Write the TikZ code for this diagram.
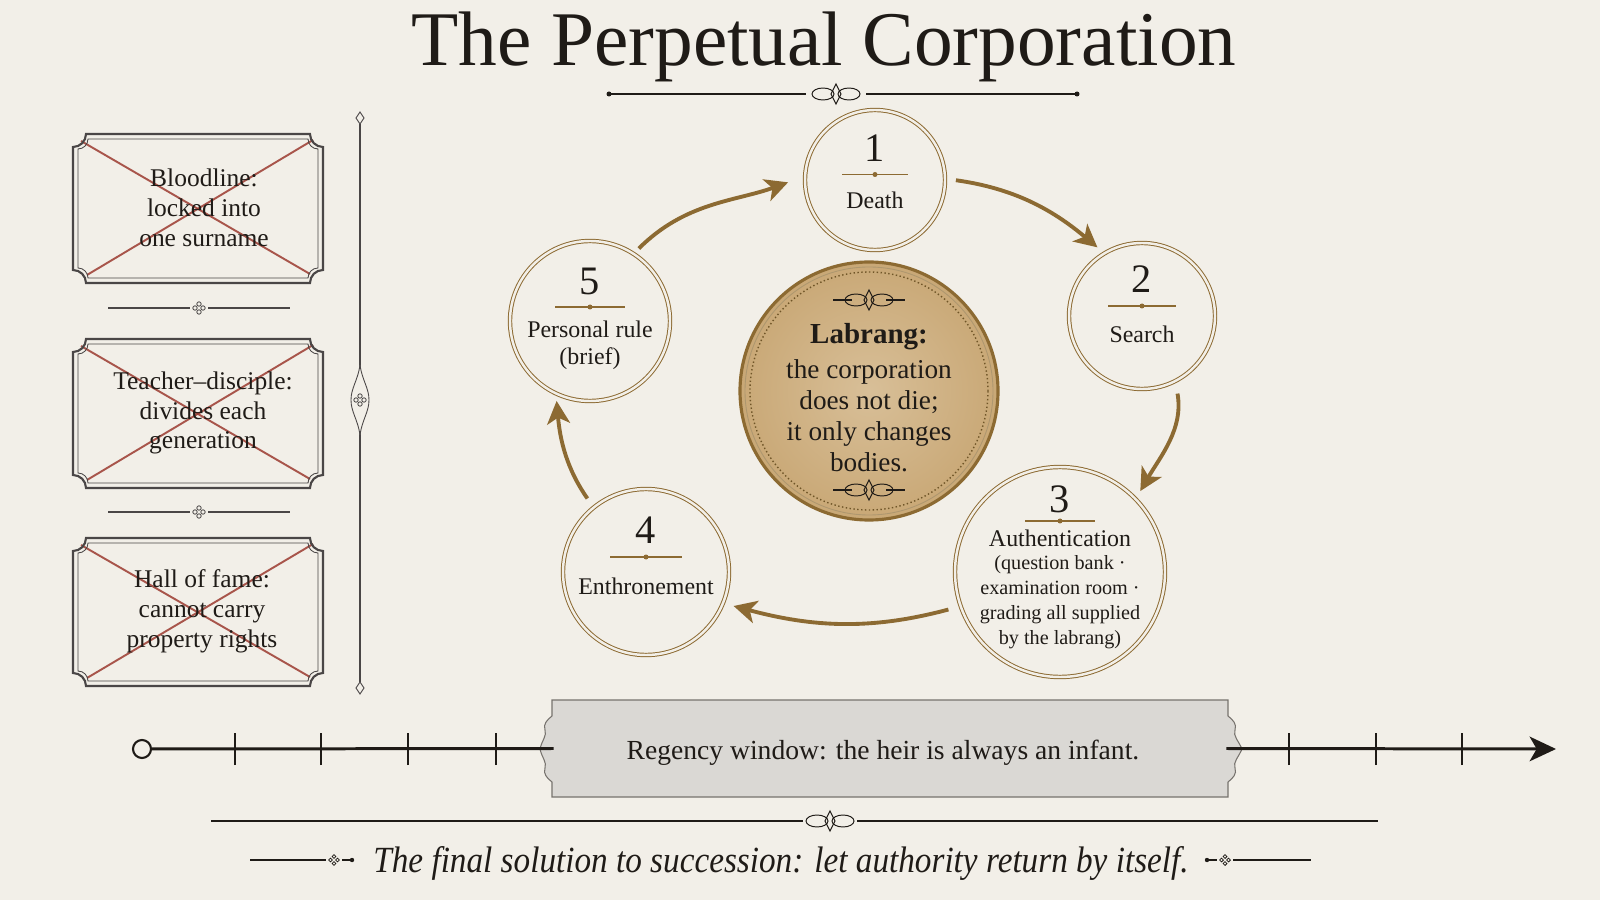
\documentclass[tikz,border=0pt]{standalone}
\usepackage{fontspec}
\usepackage{graphicx}
\setmainfont{Liberation Serif}
\usetikzlibrary{arrows.meta,calc}
\definecolor{bg}{HTML}{F2EFE8}
\definecolor{brn}{HTML}{8C6A32}
\definecolor{ink}{HTML}{1F1B17}
\definecolor{gr}{HTML}{4A4646}
\definecolor{xred}{HTML}{9C3B30}
\definecolor{tanl}{HTML}{D8BF98}
\definecolor{tand}{HTML}{C9A876}
\definecolor{graybox}{HTML}{DAD8D4}
\definecolor{grayedge}{HTML}{77736E}

\newcommand{\quatref}[4]{% x y size colour
  \foreach \a in {0,90,180,270}{\draw[#4, line width=0.45pt] (#1,#2) ++(\a:#3) circle (0.55*#3);}}
\newcommand{\flour}[3]{% x y colour
  \begin{scope}[shift={(#1,#2)}]
  \draw[#3, line width=0.55pt] (-13,0) ellipse [x radius=11, y radius=6];
  \draw[#3, line width=0.55pt] (13,0) ellipse [x radius=11, y radius=6];
  \draw[#3, line width=0.55pt] (0,-10) -- (5,0) -- (0,10) -- (-5,0) -- cycle;
  \end{scope}}
\newcommand{\xbox}[4]{% x1 y1 x2 y2
  \draw[xred, line width=1.1pt, opacity=0.85] (#1+8,#4-7) -- (#3-13,#2+9);
  \draw[xred, line width=1.1pt, opacity=0.85] (#1+14,#2+8) -- (#3-10,#4-6);
  \draw[gr, line width=1.2pt] (#1+13,#2) -- (#3-13,#2) arc[start angle=180,end angle=90,radius=13]
     -- (#3,#4-13) arc[start angle=270,end angle=180,radius=13]
     -- (#1+13,#4) arc[start angle=0,end angle=-90,radius=13]
     -- (#1,#2+13) arc[start angle=90,end angle=0,radius=13] -- cycle;
  \draw[gr, line width=0.5pt] (#1+15,#2+5) -- (#3-15,#2+5) arc[start angle=180,end angle=90,radius=10]
     -- (#3-5,#4-15) arc[start angle=270,end angle=180,radius=10]
     -- (#1+15,#4-5) arc[start angle=0,end angle=-90,radius=10]
     -- (#1+5,#2+15) arc[start angle=90,end angle=0,radius=10] -- cycle;}

\tikzset{
  stage/.style={circle, draw=brn, line width=0.55pt, double=bg, double distance=1.4pt, fill=bg, inner sep=0pt},
  num/.style={font=\fontsize{23}{23}\selectfont, text=ink},
  lbl/.style={font=\fontsize{13.6}{15.4}\selectfont, align=center, text=ink},
  small/.style={font=\fontsize{11.5}{14.2}\selectfont, align=center, text=ink},
  boxtxt/.style={font=\fontsize{14.5}{17}\selectfont, align=center, text=ink},
  ctxt/.style={font=\fontsize{15.5}{17.6}\selectfont, align=center, text=ink},
  arr/.style={draw=brn, line width=2.2pt, -{Stealth[length=13pt,width=13pt,inset=3.5pt]}},
  divd/.style={brn, line width=0.6pt},
  tl/.style={draw=ink, line width=1.7pt}
}

\begin{document}
\begin{tikzpicture}[x=0.2mm,y=0.2mm]
\useasboundingbox (0,0) rectangle (1600,900);
\fill[bg] (0,0) rectangle (1600,900);

% title
\node[anchor=base, font=\fontsize{44}{44}\selectfont, text=ink] (title) at (824,834) {The Perpetual Corporation};
\draw[ink, line width=0.8pt] (609,806) -- (806,806);
\draw[ink, line width=0.8pt] (866,806) -- (1077,806);
\fill[ink] (609,806) circle (2.5);
\fill[ink] (1077,806) circle (2.5);
\flour{836}{806}{ink}

% left boxes
\xbox{73}{617}{323}{766}
\xbox{73}{412}{323}{561}
\xbox{73}{214}{323}{362}
\node[boxtxt] (b1) at (204,692) {Bloodline:\\locked into\\one surname};
\node[boxtxt] (b2) at (203,487) {Teacher–disciple:\\divides each\\generation};
\node[boxtxt] (b3) at (202,289) {Hall of fame:\\cannot carry\\property rights};
% separators
\draw[gr, line width=0.6pt] (108,592) -- (190,592);
\draw[gr, line width=0.6pt] (208,592) -- (290,592);
\quatref{199}{592}{4}{gr}
\draw[gr, line width=0.6pt] (108,388) -- (190,388);
\draw[gr, line width=0.6pt] (208,388) -- (290,388);
\quatref{199}{388}{4}{gr}
% vertical rule
\draw[gr, line width=0.7pt] (360,218) -- (360,776);
\draw[gr, line width=0.5pt, fill=bg] (360,776) -- (364,782) -- (360,788) -- (356,782) -- cycle;
\draw[gr, line width=0.5pt, fill=bg] (360,218) -- (364,212) -- (360,206) -- (356,212) -- cycle;
\draw[gr, line width=0.5pt, fill=bg] (360,535) .. controls (358,520) and (351,512) .. (351,500) .. controls (351,488) and (358,480) .. (360,465) .. controls (362,480) and (369,488) .. (369,500) .. controls (369,512) and (362,520) .. (360,535) -- cycle;
\quatref{360}{500}{4}{gr}

% centre
\node[circle, minimum size=51.6mm, inner sep=0pt, draw=brn, line width=1.8pt, inner color=tanl, outer color=tand] (c) at (869,509) {};
\draw[brn!70, line width=0.5pt] (c) circle (124);
\draw[brn!80!black, line width=0.8pt, dash pattern=on 0.8pt off 1.4pt] (c) circle (119);
\draw[ink, line width=0.6pt] (833,600) -- (852,600);
\draw[ink, line width=0.6pt] (886,600) -- (905,600);
\flour{869}{600}{ink}
\draw[ink, line width=0.6pt] (833,410) -- (852,410);
\draw[ink, line width=0.6pt] (886,410) -- (905,410);
\flour{869}{410}{ink}
\node[font=\fontsize{16.5}{18}\selectfont\bfseries, text=ink] (clab) at (869,563) {Labrang:};
\node[ctxt] (ctext) at (869,484) {the corporation\\does not die;\\it only changes\\bodies.};

% stages
\node[stage, minimum size=28mm] (n1) at (875,720) {};
\node[stage, minimum size=29.2mm] (n2) at (1142,584) {};
\node[stage, minimum size=42mm] (n3) at (1060,328) {};
\node[stage, minimum size=33.2mm] (n4) at (646,328) {};
\node[stage, minimum size=32mm] (n5) at (590,579) {};

\node[num] (n1n) at (875,752) {1};
\draw[divd] (842,725.5) -- (908,725.5); \fill[brn] (875,725.5) circle (2.5);
\node[lbl] (n1t) at (875,700) {Death};

\node[num] (n2n) at (1142,621) {2};
\draw[divd] (1108,594) -- (1176,594); \fill[brn] (1142,594) circle (2.5);
\node[lbl] (n2t) at (1142,566) {Search};

\node[num] (n3n) at (1060,401) {3};
\draw[divd] (1025,379) -- (1095,379); \fill[brn] (1060,379) circle (2.5);
\node[lbl] (n3t) at (1060,362) {Authentication};
\node[small] (n3s) at (1060,298) {(question bank ·\\examination room ·\\grading all supplied\\by the labrang)};

\node[num] (n4n) at (646,370) {4};
\draw[divd] (610,343) -- (682,343); \fill[brn] (646,343) circle (2.5);
\node[lbl] (n4t) at (646,314) {Enthronement};

\node[num] (n5n) at (590,619) {5};
\draw[divd] (555,593) -- (625,593); \fill[brn] (590,593) circle (2.5);
\node[lbl] (n5t) at (590,555) {Personal rule\\(brief)};

% cycle arrows
\draw[arr, shorten <=4pt, shorten >=10pt] (n5.57) to[out=45, in=200] (n1.177);
\draw[arr, shorten <=6pt, shorten >=5pt] (n1.1) to[out=-8, in=140] (n2.121);
\draw[arr, shorten <=7pt, shorten >=5pt] (n2.-63) to[out=-80, in=60] (n3.44);
\draw[arr, shorten <=7pt, shorten >=6pt] (n3.199) to[out=195, in=-15] (n4.-22);
\draw[arr, shorten <=6pt, shorten >=4pt] (n4.129) to[out=125, in=-85] (n5.245);

% timeline
\node[minimum width=135.2mm, minimum height=19.4mm, inner sep=0pt] (rw) at (890,151.5) {};
\fill[graybox, draw=grayedge, line width=0.6pt]
  (552,200) -- (552,184) .. controls (547,180) and (543,176) .. (545,170)
  .. controls (547,164) and (542,160) .. (540,151) .. controls (542,142) and (547,138) .. (545,132)
  .. controls (543,126) and (547,122) .. (552,118) -- (552,103)
  -- (1228,103) -- (1228,118) .. controls (1233,122) and (1237,126) .. (1235,132)
  .. controls (1233,138) and (1238,142) .. (1242,151) .. controls (1238,160) and (1233,164) .. (1235,170)
  .. controls (1237,176) and (1233,180) .. (1228,184) -- (1228,200) -- cycle;
\node[font=\fontsize{15.7}{18}\selectfont, text=ink] (rwt) at (883,147) {Regency window: the heir is always an infant.};
\node[circle, draw=ink, line width=1.2pt, fill=bg, minimum size=3.6mm, inner sep=0pt] (t0) at (142,151) {};
\coordinate (tend) at (1556,151);
\draw[tl] (t0) -- ([xshift=0.4mm]rw.west);
\draw[tl, -{Stealth[length=15pt,width=14pt,inset=4pt]}] ([xshift=-0.4mm]rw.east) -- (tend);
\foreach \x in {235,321,408,496,1289,1376,1462} \draw[ink, line width=1.3pt] (\x,135) -- (\x,167);

% bottom rule & caption
\draw[ink, line width=0.8pt] (211,79) -- (803,79);
\draw[ink, line width=0.8pt] (857,79) -- (1378,79);
\flour{830}{79}{ink}
\node[font=\fontsize{21}{21}\selectfont\itshape, text=ink] (cap) at (781,37) {\scalebox{0.9}[1]{The final solution to succession: let authority return by itself.}};
\draw[ink, line width=0.7pt] (250,40) -- (326,40);
\quatref{334}{40}{3.5}{ink}
\fill[ink] (352,40) circle (2.2);
\draw[ink, line width=0.7pt] (342,40) -- (352,40);
\fill[ink] (1207,40) circle (2.2);
\draw[ink, line width=0.7pt] (1207,40) -- (1217,40);
\quatref{1225}{40}{3.5}{ink}
\draw[ink, line width=0.7pt] (1233,40) -- (1311,40);
\end{tikzpicture}
\end{document}
